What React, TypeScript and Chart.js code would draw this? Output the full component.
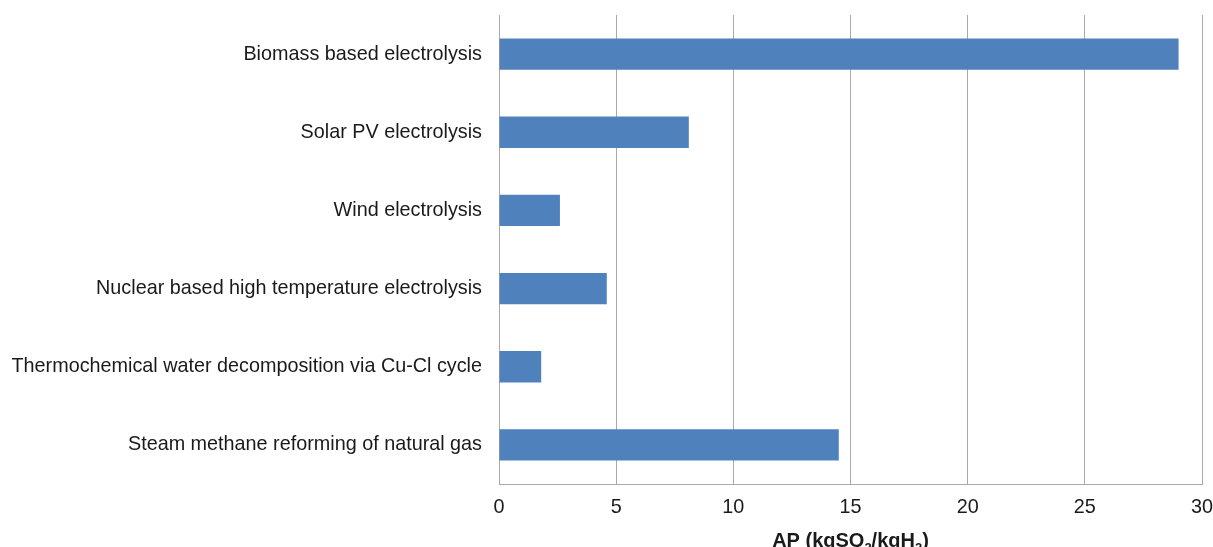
import React, { useEffect, useRef } from "react";
import { Chart, registerables } from "chart.js";

Chart.register(...registerables);

const categories = [
  "Biomass based electrolysis",
  "Solar PV electrolysis",
  "Wind electrolysis",
  "Nuclear based high temperature electrolysis",
  "Thermochemical water decomposition via Cu-Cl cycle",
  "Steam methane reforming of natural gas",
];
const apValues = [29.0, 8.1, 2.6, 4.6, 1.8, 14.5];
const xTicks = [0, 5, 10, 15, 20, 25, 30];
const titleParts: [string, boolean][] = [
  ["AP (kgSO", false],
  ["2", true],
  ["/kgH", false],
  ["2", true],
  [")", false],
];

const FONT = "'Liberation Sans', Arial, sans-serif";

const titlePlugin = {
  id: "subTitle",
  afterDraw(chart: any) {
    const ctx = chart.ctx;
    const area = chart.chartArea;
    const main = `bold 20px ${FONT}`;
    const sub = `bold 13px ${FONT}`;
    ctx.save();
    let total = 0;
    for (const [t, s] of titleParts) {
      ctx.font = s ? sub : main;
      total += ctx.measureText(t).width;
    }
    let x = (area.left + area.right) / 2 - total / 2;
    const base = 547;
    ctx.fillStyle = "#1a1a1a";
    ctx.textBaseline = "alphabetic";
    ctx.textAlign = "left";
    for (const [t, s] of titleParts) {
      ctx.font = s ? sub : main;
      ctx.fillText(t, x, s ? base + 5 : base);
      x += ctx.measureText(t).width;
    }
    ctx.restore();
  },
};

export default function App() {
  const ref = useRef<HTMLCanvasElement>(null);
  useEffect(() => {
    if (!ref.current) return;
    const chart = new Chart(ref.current, {
      type: "bar",
      data: {
        labels: categories,
        datasets: [
          {
            data: apValues,
            backgroundColor: "#4F81BD",
            borderWidth: 0,
            categoryPercentage: 1,
            barPercentage: 0.4,
          },
        ],
      },
      options: {
        indexAxis: "y",
        animation: false,
        responsive: false,
        maintainAspectRatio: false,
        layout: { padding: { top: 15, right: 11, left: 0, bottom: 0 } },
        plugins: { legend: { display: false }, tooltip: { enabled: false } },
        scales: {
          x: {
            min: 0,
            max: 30,
            afterBuildTicks: (s: any) => {
              s.ticks = xTicks.map((v) => ({ value: v }));
            },
            afterFit: (s: any) => {
              s.height = 63;
              s.paddingLeft = 0;
              s.paddingRight = 0;
            },
            grid: { color: "#aaaaaa", lineWidth: 1, drawTicks: false },
            border: { display: true, color: "#aaaaaa" },
            ticks: {
              color: "#1a1a1a",
              font: { size: 19.8, family: FONT },
              padding: 12,
            },
          },
          y: {
            afterFit: (s: any) => {
              s.width = 499;
              s.paddingTop = 0;
              s.paddingBottom = 0;
            },
            grid: { display: false, drawTicks: false },
            border: { display: true, color: "#aaaaaa" },
            ticks: {
              color: "#1a1a1a",
              font: { size: 19.8, family: FONT },
              padding: 17,
              autoSkip: false,
            },
          },
        },
      },
      plugins: [titlePlugin],
    });
    return () => chart.destroy();
  }, []);
  return (
    <div style={{ position: "fixed", left: 0, top: 0, width: 1213, height: 547, background: "#fff" }}>
      <canvas ref={ref} width={1213} height={547} style={{ display: "block" }} />
    </div>
  );
}
